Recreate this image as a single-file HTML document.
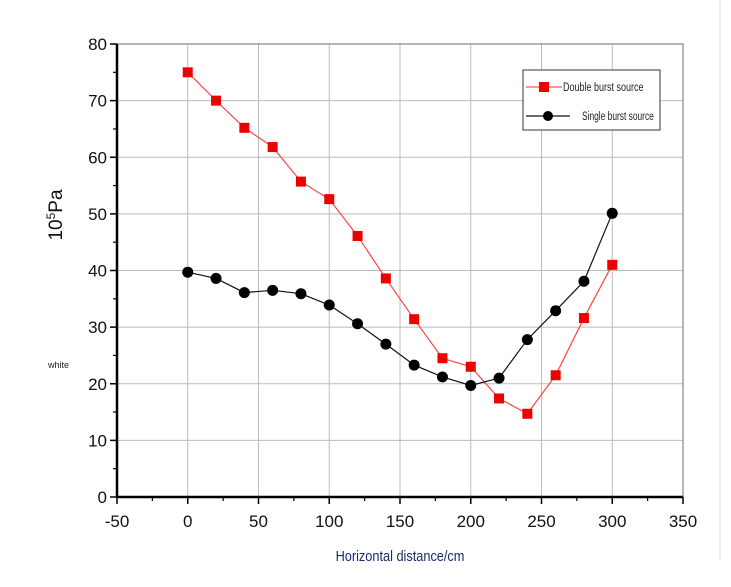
<!DOCTYPE html>
<html><head><meta charset="utf-8"><style>
body{margin:0;background:#fff;width:731px;height:582px;overflow:hidden;font-family:"Liberation Sans",sans-serif}
</style></head><body>
<svg id="c" width="731" height="582" xmlns="http://www.w3.org/2000/svg">
<line x1="720" y1="0" x2="720" y2="560" stroke="#ddd" stroke-width="1"/>
<g id="grid"></g>
<g id="axes"></g>
<g id="series"></g>
<text x="62" y="215" font-size="19" text-anchor="middle" transform="rotate(-90 62 215)" fill="#111">10<tspan font-size="12" dy="-7">5</tspan><tspan dy="7">Pa</tspan></text>
<text x="48" y="368" font-size="9" fill="#222">white</text>
<text x="400" y="561" font-size="15" text-anchor="middle" fill="#1a2a6c" transform="translate(400 0) scale(0.85 1) translate(-400 0)">Horizontal distance/cm</text>
<g>
<rect x="523" y="70" width="137" height="60" fill="#fff" stroke="#333" stroke-width="1"/>
<g>
<line x1="526" y1="87" x2="562" y2="87" stroke="#f55" stroke-width="1.2"/>
<rect x="539" y="82" width="10" height="10" fill="#e00"/>
<text x="563" y="91" font-size="12" fill="#222" transform="translate(563 0) scale(0.75 1) translate(-563 0)">Double burst source</text>
</g>
<g>
<line x1="526" y1="116" x2="570" y2="116" stroke="#111" stroke-width="1.2"/>
<circle cx="548" cy="116" r="5" fill="#000"/>
<text x="582" y="120" font-size="12" fill="#222" transform="translate(582 0) scale(0.7 1) translate(-582 0)">Single burst source</text>
</g>
</g>
</svg>
<script>
const xs=[0,20,40,60,80,100,120,140,160,180,200,220,240,260,280,300];
const doubleVals=[75,70,65.2,61.8,55.7,52.6,46.1,38.6,31.4,24.5,23,17.4,14.7,21.5,31.6,41];
const singleVals=[39.7,38.6,36.1,36.5,35.9,33.9,30.6,27.0,23.3,21.2,19.7,21.0,27.8,32.9,38.1,50.1];
const xTicks=[-50,0,50,100,150,200,250,300,350];
const yTicks=[0,10,20,30,40,50,60,70,80];
const NS="http://www.w3.org/2000/svg";
const X0=117,X1=683,Y0=497,Y1=44;
const sx=v=>X0+(v+50)/400*(X1-X0);
const sy=v=>Y0-v/80*(Y0-Y1);
function mk(p,t,a){const e=document.createElementNS(NS,t);for(const k in a)e.setAttribute(k,a[k]);p.appendChild(e);return e;}
const grid=document.getElementById('grid'),axes=document.getElementById('axes'),ser=document.getElementById('series');
xTicks.forEach(v=>{if(v>-50){const l=mk(grid,'line',{x1:sx(v),x2:sx(v),y1:Y1,y2:Y0,stroke:'#bbb','stroke-width':1});

}
const t=mk(axes,'line',{x1:sx(v),x2:sx(v),y1:Y0,y2:Y0+7,stroke:'#000','stroke-width':1.5});


const m=mk(axes,'line',{x1:sx(v+25),x2:sx(v+25),y1:Y0,y2:Y0+4,stroke:'#000','stroke-width':1.2});
if(v==350)m.remove();


const tx=mk(axes,'text',{x:sx(v),y:Y0+30,'font-size':17,'text-anchor':'middle',fill:'#111'});tx.textContent=v;

});
yTicks.forEach(v=>{if(v>0){const l=mk(grid,'line',{x1:X0,x2:X1,y1:sy(v),y2:sy(v),stroke:'#bbb','stroke-width':1});

}
const t=mk(axes,'line',{x1:X0-7,x2:X0,y1:sy(v),y2:sy(v),stroke:'#000','stroke-width':1.5});


if(v<80){const m=mk(axes,'line',{x1:X0-4,x2:X0,y1:sy(v+5),y2:sy(v+5),stroke:'#000','stroke-width':1.2});

}
const tx=mk(axes,'text',{x:X0-10,y:sy(v)+6,'font-size':17,'text-anchor':'end',fill:'#111'});tx.textContent=v;

});
const fr=mk(axes,'path',{d:`M${X0} ${Y1}H${X1}V${Y0}`,fill:'none',stroke:'#888','stroke-width':1.2});


const ax=mk(axes,'path',{d:`M${X0} ${Y1}V${Y0}H${X1}`,fill:'none',stroke:'#000','stroke-width':2.5});


const pd=xs.map((x,i)=>(i?'L':'M')+sx(x)+' '+sy(doubleVals[i])).join('');
const l1=mk(ser,'path',{d:pd,fill:'none',stroke:'#f44','stroke-width':1.2});


const ps=xs.map((x,i)=>(i?'L':'M')+sx(x)+' '+sy(singleVals[i])).join('');
const l2=mk(ser,'path',{d:ps,fill:'none',stroke:'#111','stroke-width':1.2});


xs.forEach((x,i)=>{const r=mk(ser,'rect',{x:sx(x)-5,y:sy(doubleVals[i])-5,width:10,height:10,fill:'#e00'});


const c=mk(ser,'circle',{cx:sx(x),cy:sy(singleVals[i]),r:5.5,fill:'#000'});

});
</script>
</body></html>
